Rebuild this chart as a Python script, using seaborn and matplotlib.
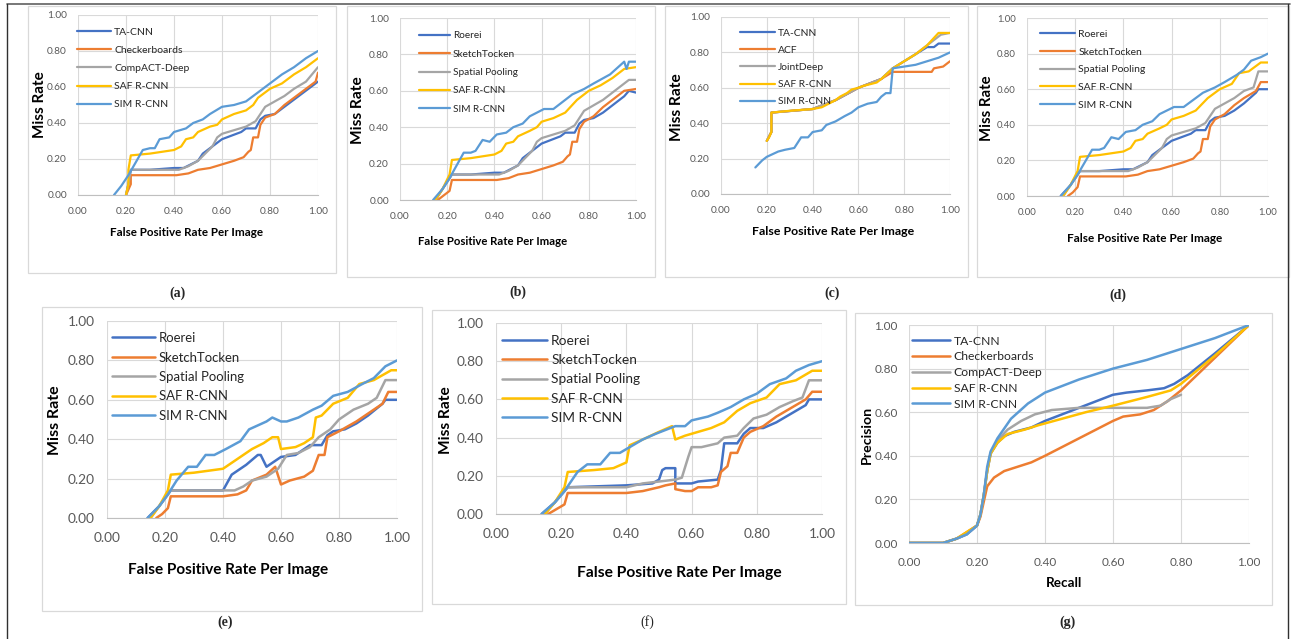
import matplotlib
matplotlib.use('Agg')
import matplotlib.pyplot as plt
import pandas as pd
import seaborn as sns
from matplotlib.patches import Rectangle
from matplotlib.lines import Line2D
from matplotlib.ticker import FormatStrFormatter

W, H = 1293, 639

COLORS = ['#4472C4', '#ED7D31', '#A5A5A5', '#FFC000', '#5B9BD5']

# Noms des méthodes de chaque panneau
names_ta = ['TA-CNN', 'Checkerboards', 'CompACT-Deep', 'SAF R-CNN', 'SIM R-CNN']
names_roerei = ['Roerei', 'SketchTocken', 'Spatial Pooling', 'SAF R-CNN', 'SIM R-CNN']
names_acf = ['TA-CNN', 'ACF', 'JointDeep', 'SAF R-CNN', 'SIM R-CNN']

captions = ['(a)', '(b)', '(c)', '(d)', '(e)', '(f)', '(g)']

# ---- (a) miss rate / FPPI ----
a_ta_cnn = [(0.20, 0.00), (0.21, 0.06), (0.22, 0.14), (0.30, 0.14), (0.40, 0.15), (0.44, 0.15), (0.47, 0.17),
            (0.50, 0.19), (0.52, 0.23), (0.55, 0.26), (0.58, 0.29), (0.60, 0.31), (0.64, 0.33), (0.68, 0.35),
            (0.70, 0.37), (0.74, 0.37), (0.76, 0.42), (0.78, 0.44), (0.82, 0.45), (0.86, 0.49), (0.90, 0.53),
            (0.95, 0.58), (1.00, 0.63)]
a_checkerboards = [(0.20, 0.00), (0.21, 0.03), (0.22, 0.06), (0.22, 0.11), (0.30, 0.11), (0.41, 0.11), (0.46, 0.12),
                   (0.50, 0.14), (0.55, 0.15), (0.60, 0.17), (0.65, 0.19), (0.69, 0.21), (0.71, 0.24), (0.72, 0.25),
                   (0.73, 0.32), (0.75, 0.32), (0.76, 0.39), (0.78, 0.43), (0.82, 0.45), (0.86, 0.50), (0.90, 0.54),
                   (0.95, 0.59), (0.99, 0.63), (1.00, 0.68)]
a_compact_deep = [(0.20, 0.00), (0.21, 0.06), (0.22, 0.14), (0.30, 0.14), (0.42, 0.14), (0.46, 0.16), (0.50, 0.19),
                  (0.53, 0.23), (0.56, 0.27), (0.58, 0.32), (0.60, 0.34), (0.65, 0.36), (0.70, 0.38), (0.74, 0.41),
                  (0.76, 0.45), (0.78, 0.49), (0.82, 0.52), (0.86, 0.55), (0.90, 0.59), (0.95, 0.63), (1.00, 0.71)]
a_saf_rcnn = [(0.20, 0.00), (0.21, 0.06), (0.21, 0.14), (0.22, 0.22), (0.30, 0.23), (0.40, 0.25), (0.43, 0.27),
              (0.45, 0.31), (0.48, 0.32), (0.50, 0.35), (0.55, 0.38), (0.58, 0.39), (0.60, 0.42), (0.65, 0.45),
              (0.70, 0.47), (0.73, 0.50), (0.75, 0.54), (0.80, 0.59), (0.85, 0.62), (0.90, 0.67), (0.95, 0.71),
              (1.00, 0.76)]
a_sim_rcnn = [(0.15, 0.00), (0.18, 0.05), (0.21, 0.11), (0.24, 0.18), (0.27, 0.25), (0.30, 0.26), (0.32, 0.26),
              (0.34, 0.31), (0.38, 0.32), (0.40, 0.35), (0.45, 0.37), (0.48, 0.40), (0.52, 0.42), (0.55, 0.45),
              (0.60, 0.49), (0.65, 0.50), (0.70, 0.52), (0.73, 0.55), (0.76, 0.58), (0.80, 0.62), (0.85, 0.67),
              (0.90, 0.71), (0.95, 0.76), (1.00, 0.80)]

# ---- (b) ----
b_roerei = [(0.15, 0.00), (0.18, 0.06), (0.21, 0.12), (0.22, 0.14), (0.30, 0.14), (0.40, 0.15), (0.44, 0.15),
            (0.47, 0.17), (0.50, 0.19), (0.52, 0.23), (0.55, 0.26), (0.58, 0.29), (0.60, 0.31), (0.64, 0.33),
            (0.68, 0.35), (0.70, 0.37), (0.74, 0.37), (0.76, 0.42), (0.78, 0.44), (0.82, 0.45), (0.86, 0.48),
            (0.90, 0.52), (0.95, 0.57), (0.97, 0.60), (1.00, 0.59)]
b_sketchtocken = [(0.16, 0.00), (0.18, 0.02), (0.21, 0.05), (0.22, 0.11), (0.30, 0.11), (0.41, 0.11), (0.46, 0.12),
                  (0.50, 0.14), (0.55, 0.15), (0.60, 0.17), (0.65, 0.19), (0.69, 0.21), (0.71, 0.24), (0.72, 0.25),
                  (0.73, 0.32), (0.75, 0.32), (0.76, 0.39), (0.78, 0.43), (0.82, 0.46), (0.86, 0.51), (0.90, 0.55),
                  (0.95, 0.60), (1.00, 0.61)]
b_spatial_pooling = [(0.15, 0.00), (0.18, 0.06), (0.21, 0.12), (0.22, 0.14), (0.30, 0.14), (0.42, 0.14), (0.46, 0.16),
                     (0.50, 0.19), (0.53, 0.23), (0.56, 0.27), (0.58, 0.32), (0.60, 0.34), (0.65, 0.36), (0.70, 0.38),
                     (0.74, 0.41), (0.76, 0.45), (0.78, 0.49), (0.82, 0.52), (0.86, 0.55), (0.90, 0.59), (0.95, 0.64),
                     (0.97, 0.66), (1.00, 0.66)]
b_saf_rcnn = [(0.15, 0.00), (0.18, 0.06), (0.21, 0.14), (0.22, 0.22), (0.30, 0.23), (0.40, 0.25), (0.43, 0.27),
              (0.45, 0.31), (0.48, 0.32), (0.50, 0.35), (0.55, 0.38), (0.58, 0.40), (0.60, 0.43), (0.65, 0.45),
              (0.70, 0.48), (0.75, 0.55), (0.80, 0.60), (0.85, 0.63), (0.90, 0.67), (0.95, 0.72), (1.00, 0.73)]
b_sim_rcnn = [(0.14, 0.00), (0.18, 0.06), (0.21, 0.12), (0.24, 0.19), (0.27, 0.26), (0.30, 0.26), (0.32, 0.27),
              (0.35, 0.33), (0.38, 0.32), (0.41, 0.36), (0.45, 0.37), (0.48, 0.40), (0.52, 0.42), (0.55, 0.46),
              (0.61, 0.50), (0.65, 0.50), (0.68, 0.53), (0.73, 0.58), (0.78, 0.61), (0.82, 0.64), (0.89, 0.69),
              (0.95, 0.76), (0.96, 0.72), (0.97, 0.76), (1.00, 0.76)]

# ---- (c) ----
c_ta_cnn = [(0.20, 0.30), (0.22, 0.35), (0.22, 0.46), (0.40, 0.48), (0.50, 0.53), (0.60, 0.60), (0.70, 0.65),
            (0.75, 0.71), (0.80, 0.75), (0.85, 0.79), (0.90, 0.83), (0.93, 0.83), (0.95, 0.85), (1.00, 0.85)]
c_acf = [(0.20, 0.30), (0.22, 0.35), (0.22, 0.46), (0.40, 0.48), (0.50, 0.53), (0.60, 0.60), (0.70, 0.65),
         (0.75, 0.69), (0.92, 0.69), (0.93, 0.71), (0.97, 0.72), (1.00, 0.75)]
c_jointdeep = [(0.20, 0.30), (0.22, 0.35), (0.22, 0.46), (0.40, 0.48), (0.50, 0.53), (0.60, 0.60), (0.70, 0.65),
               (0.75, 0.71), (0.80, 0.75), (0.85, 0.79), (0.90, 0.84), (0.94, 0.88), (0.96, 0.90), (1.00, 0.91)]
c_saf_rcnn = [(0.20, 0.30), (0.21, 0.32), (0.22, 0.35), (0.22, 0.46), (0.30, 0.47), (0.40, 0.48), (0.44, 0.49),
              (0.47, 0.51), (0.50, 0.53), (0.52, 0.55), (0.55, 0.57), (0.57, 0.59), (0.60, 0.60), (0.62, 0.61),
              (0.65, 0.62), (0.68, 0.63), (0.70, 0.65), (0.75, 0.71), (0.80, 0.75), (0.85, 0.79), (0.90, 0.84),
              (0.95, 0.91), (1.00, 0.91)]
c_sim_rcnn = [(0.15, 0.15), (0.18, 0.19), (0.20, 0.21), (0.25, 0.24), (0.28, 0.25), (0.32, 0.26), (0.35, 0.32),
              (0.38, 0.32), (0.40, 0.35), (0.44, 0.36), (0.46, 0.39), (0.50, 0.41), (0.54, 0.44), (0.57, 0.46),
              (0.60, 0.49), (0.64, 0.51), (0.68, 0.52), (0.70, 0.55), (0.72, 0.57), (0.74, 0.57), (0.75, 0.71),
              (0.80, 0.72), (0.85, 0.73), (0.90, 0.75), (0.95, 0.77), (1.00, 0.80)]

# ---- (d) ----
d_roerei = [(0.14, 0.00), (0.18, 0.06), (0.21, 0.12), (0.22, 0.14), (0.30, 0.14), (0.40, 0.15), (0.44, 0.15),
            (0.47, 0.17), (0.50, 0.19), (0.52, 0.23), (0.55, 0.26), (0.58, 0.29), (0.60, 0.31), (0.64, 0.33),
            (0.68, 0.35), (0.70, 0.37), (0.74, 0.37), (0.76, 0.42), (0.78, 0.44), (0.82, 0.45), (0.86, 0.48),
            (0.90, 0.52), (0.95, 0.58), (0.96, 0.60), (1.00, 0.60)]
d_sketchtocken = [(0.17, 0.00), (0.19, 0.02), (0.21, 0.05), (0.22, 0.11), (0.30, 0.11), (0.41, 0.11), (0.46, 0.12),
                  (0.50, 0.14), (0.55, 0.15), (0.60, 0.17), (0.65, 0.19), (0.69, 0.21), (0.71, 0.24), (0.72, 0.25),
                  (0.73, 0.32), (0.75, 0.32), (0.76, 0.39), (0.78, 0.43), (0.82, 0.46), (0.86, 0.51), (0.90, 0.55),
                  (0.95, 0.59), (0.97, 0.64), (1.00, 0.64)]
d_spatial_pooling = [(0.15, 0.00), (0.18, 0.06), (0.21, 0.12), (0.22, 0.14), (0.30, 0.14), (0.42, 0.14), (0.46, 0.16),
                     (0.50, 0.19), (0.53, 0.23), (0.56, 0.27), (0.58, 0.32), (0.60, 0.34), (0.65, 0.36), (0.70, 0.38),
                     (0.74, 0.41), (0.76, 0.45), (0.78, 0.49), (0.82, 0.52), (0.86, 0.55), (0.90, 0.59), (0.94, 0.61),
                     (0.96, 0.70), (1.00, 0.70)]
d_saf_rcnn = [(0.15, 0.00), (0.18, 0.06), (0.21, 0.14), (0.22, 0.22), (0.30, 0.23), (0.40, 0.25), (0.43, 0.27),
              (0.45, 0.31), (0.48, 0.32), (0.50, 0.35), (0.55, 0.38), (0.58, 0.40), (0.60, 0.43), (0.65, 0.45),
              (0.70, 0.48), (0.75, 0.55), (0.80, 0.60), (0.85, 0.63), (0.88, 0.69), (0.92, 0.70), (0.95, 0.73),
              (0.97, 0.75), (1.00, 0.75)]
d_sim_rcnn = [(0.14, 0.00), (0.18, 0.06), (0.21, 0.12), (0.24, 0.19), (0.27, 0.26), (0.30, 0.26), (0.32, 0.27),
              (0.35, 0.33), (0.38, 0.32), (0.41, 0.36), (0.45, 0.37), (0.48, 0.40), (0.52, 0.42), (0.55, 0.46),
              (0.61, 0.50), (0.65, 0.50), (0.68, 0.53), (0.73, 0.58), (0.78, 0.61), (0.82, 0.64), (0.87, 0.68),
              (0.90, 0.71), (0.93, 0.76), (0.97, 0.78), (1.00, 0.80)]

# ---- (e) ----
e_roerei = [(0.14, 0.00), (0.18, 0.06), (0.21, 0.12), (0.22, 0.14), (0.30, 0.14), (0.40, 0.14), (0.43, 0.22),
            (0.48, 0.27), (0.52, 0.32), (0.53, 0.32), (0.55, 0.26), (0.57, 0.28), (0.60, 0.31), (0.65, 0.32),
            (0.68, 0.35), (0.70, 0.37), (0.74, 0.37), (0.76, 0.42), (0.78, 0.44), (0.82, 0.45), (0.86, 0.48),
            (0.90, 0.52), (0.95, 0.58), (0.96, 0.60), (1.00, 0.60)]
e_sketchtocken = [(0.17, 0.00), (0.19, 0.02), (0.21, 0.05), (0.22, 0.11), (0.30, 0.11), (0.40, 0.11), (0.45, 0.12),
                  (0.48, 0.14), (0.50, 0.19), (0.55, 0.22), (0.58, 0.26), (0.60, 0.17), (0.63, 0.19), (0.68, 0.21),
                  (0.71, 0.24), (0.73, 0.32), (0.75, 0.32), (0.76, 0.41), (0.80, 0.44), (0.86, 0.49), (0.91, 0.54),
                  (0.95, 0.58), (0.97, 0.64), (1.00, 0.64)]
e_spatial_pooling = [(0.15, 0.00), (0.18, 0.06), (0.21, 0.12), (0.22, 0.14), (0.30, 0.14), (0.44, 0.14), (0.47, 0.16),
                     (0.50, 0.19), (0.55, 0.21), (0.59, 0.25), (0.62, 0.32), (0.66, 0.33), (0.70, 0.36), (0.73, 0.41),
                     (0.77, 0.45), (0.80, 0.50), (0.85, 0.55), (0.90, 0.58), (0.93, 0.61), (0.96, 0.70), (1.00, 0.70)]
e_saf_rcnn = [(0.15, 0.00), (0.18, 0.06), (0.21, 0.14), (0.22, 0.22), (0.30, 0.23), (0.40, 0.25), (0.43, 0.28),
              (0.47, 0.32), (0.50, 0.35), (0.54, 0.38), (0.57, 0.41), (0.59, 0.41), (0.60, 0.35), (0.65, 0.36),
              (0.68, 0.38), (0.71, 0.41), (0.72, 0.51), (0.74, 0.52), (0.78, 0.58), (0.83, 0.61), (0.87, 0.68),
              (0.92, 0.70), (0.98, 0.75), (1.00, 0.75)]
e_sim_rcnn = [(0.14, 0.00), (0.18, 0.06), (0.21, 0.12), (0.24, 0.19), (0.28, 0.26), (0.31, 0.26), (0.34, 0.32),
              (0.37, 0.32), (0.41, 0.35), (0.46, 0.39), (0.49, 0.45), (0.55, 0.49), (0.57, 0.51), (0.60, 0.49),
              (0.62, 0.49), (0.66, 0.51), (0.71, 0.55), (0.74, 0.57), (0.78, 0.62), (0.83, 0.64), (0.88, 0.68),
              (0.92, 0.71), (0.96, 0.77), (1.00, 0.80)]

# ---- (f) ----
f_roerei = [(0.14, 0.00), (0.18, 0.06), (0.22, 0.14), (0.40, 0.15), (0.48, 0.16), (0.50, 0.18), (0.51, 0.23),
            (0.52, 0.24), (0.55, 0.24), (0.55, 0.16), (0.60, 0.16), (0.62, 0.17), (0.68, 0.18), (0.69, 0.23),
            (0.70, 0.37), (0.74, 0.37), (0.76, 0.42), (0.78, 0.45), (0.82, 0.45), (0.86, 0.48), (0.90, 0.52),
            (0.95, 0.57), (0.96, 0.60), (1.00, 0.60)]
f_sketchtocken = [(0.16, 0.00), (0.21, 0.05), (0.22, 0.11), (0.40, 0.11), (0.45, 0.12), (0.50, 0.14), (0.52, 0.15),
                  (0.55, 0.16), (0.55, 0.13), (0.58, 0.12), (0.60, 0.12), (0.62, 0.14), (0.66, 0.14), (0.68, 0.15),
                  (0.69, 0.22), (0.71, 0.25), (0.72, 0.32), (0.74, 0.32), (0.76, 0.40), (0.78, 0.43), (0.82, 0.46),
                  (0.86, 0.51), (0.90, 0.55), (0.95, 0.60), (0.97, 0.64), (1.00, 0.64)]
f_spatial_pooling = [(0.15, 0.00), (0.18, 0.06), (0.22, 0.14), (0.40, 0.14), (0.45, 0.16), (0.50, 0.17), (0.55, 0.18),
                     (0.57, 0.19), (0.59, 0.30), (0.60, 0.35), (0.63, 0.35), (0.68, 0.37), (0.70, 0.40), (0.74, 0.41),
                     (0.76, 0.45), (0.79, 0.50), (0.83, 0.52), (0.87, 0.56), (0.91, 0.59), (0.94, 0.61), (0.96, 0.70),
                     (1.00, 0.70)]
f_saf_rcnn = [(0.15, 0.00), (0.18, 0.06), (0.21, 0.14), (0.22, 0.22), (0.30, 0.23), (0.36, 0.24), (0.40, 0.27),
              (0.41, 0.36), (0.45, 0.39), (0.50, 0.43), (0.54, 0.46), (0.55, 0.39), (0.58, 0.41), (0.62, 0.43),
              (0.66, 0.45), (0.70, 0.48), (0.74, 0.54), (0.78, 0.58), (0.83, 0.61), (0.87, 0.68), (0.92, 0.70),
              (0.97, 0.75), (1.00, 0.75)]
f_sim_rcnn = [(0.14, 0.00), (0.18, 0.06), (0.21, 0.12), (0.25, 0.22), (0.28, 0.26), (0.32, 0.26), (0.35, 0.32),
              (0.38, 0.32), (0.41, 0.35), (0.45, 0.39), (0.49, 0.42), (0.55, 0.46), (0.58, 0.46), (0.60, 0.49),
              (0.65, 0.51), (0.68, 0.53), (0.72, 0.56), (0.76, 0.60), (0.80, 0.63), (0.84, 0.68), (0.89, 0.71),
              (0.92, 0.75), (0.96, 0.78), (1.00, 0.80)]

# ---- (g) precision / recall ----
g_ta_cnn = [(0.00, 0.00), (0.10, 0.00), (0.14, 0.02), (0.17, 0.04), (0.20, 0.08), (0.21, 0.13), (0.22, 0.22),
            (0.23, 0.33), (0.24, 0.41), (0.26, 0.46), (0.28, 0.49), (0.31, 0.51), (0.36, 0.53), (0.40, 0.56),
            (0.45, 0.59), (0.50, 0.62), (0.55, 0.65), (0.60, 0.68), (0.64, 0.69), (0.70, 0.70), (0.75, 0.71),
            (0.78, 0.73), (0.82, 0.77), (0.90, 0.87), (1.00, 1.00)]
g_checkerboards = [(0.00, 0.00), (0.10, 0.00), (0.14, 0.02), (0.17, 0.05), (0.20, 0.08), (0.21, 0.12), (0.22, 0.19),
                   (0.23, 0.26), (0.25, 0.30), (0.28, 0.33), (0.32, 0.35), (0.36, 0.37), (0.40, 0.40), (0.45, 0.44),
                   (0.50, 0.48), (0.55, 0.52), (0.60, 0.56), (0.63, 0.58), (0.68, 0.59), (0.72, 0.61), (0.76, 0.65),
                   (0.80, 0.70), (0.90, 0.85), (1.00, 1.00)]
g_compact_deep = [(0.00, 0.00), (0.10, 0.00), (0.14, 0.02), (0.17, 0.04), (0.20, 0.08), (0.21, 0.13), (0.22, 0.22),
                  (0.23, 0.33), (0.24, 0.41), (0.26, 0.47), (0.29, 0.52), (0.33, 0.56), (0.37, 0.59), (0.42, 0.61),
                  (0.50, 0.62), (0.60, 0.62), (0.70, 0.62), (0.74, 0.63), (0.77, 0.66), (0.80, 0.68)]
g_saf_rcnn = [(0.00, 0.00), (0.10, 0.00), (0.14, 0.02), (0.17, 0.05), (0.20, 0.08), (0.21, 0.13), (0.22, 0.22),
              (0.23, 0.33), (0.24, 0.41), (0.26, 0.46), (0.29, 0.50), (0.34, 0.52), (0.38, 0.54), (0.45, 0.57),
              (0.52, 0.60), (0.60, 0.63), (0.70, 0.67), (0.77, 0.70), (0.80, 0.73), (0.90, 0.86), (1.00, 1.00)]
g_sim_rcnn = [(0.00, 0.00), (0.10, 0.00), (0.14, 0.02), (0.17, 0.04), (0.20, 0.08), (0.21, 0.13), (0.22, 0.22),
              (0.23, 0.35), (0.24, 0.42), (0.26, 0.48), (0.30, 0.57), (0.35, 0.64), (0.40, 0.69), (0.45, 0.72),
              (0.50, 0.75), (0.60, 0.80), (0.70, 0.84), (0.80, 0.89), (0.90, 0.94), (1.00, 1.00)]

ticks = [0.0, 0.2, 0.4, 0.6, 0.8, 1.0]

sns.set_style('whitegrid')
plt.rcParams['font.family'] = ['Lato', 'DejaVu Sans']


def px_rect(x0, y0, x1, y1):
    return [x0 / W, 1 - y1 / H, (x1 - x0) / W, (y1 - y0) / H]


# Mise en page en pixels : axes, cadre, légende (x poignée, y 1re ligne, pas, longueur poignée),
# largeurs cibles des textes (tick "0.00", libellé de légende, xlabel, ylabel)
panels = [
    dict(names=names_ta, series=[a_ta_cnn, a_checkerboards, a_compact_deep, a_saf_rcnn, a_sim_rcnn],
         ax=(78, 15, 318, 195), box=(28, 6, 336, 273), cap=(177, 293), xl=(187, 233), yl=(40, 105),
         leg=(77, 32, 17.9, 34), fit=(20, ('Checkerboards', 69), 153, 67), pad=(8.5, 8), lw=1.6,
         ylabel='Miss Rate', xlabel='False Positive Rate Per Image'),
    dict(names=names_roerei, series=[b_roerei, b_sketchtocken, b_spatial_pooling, b_saf_rcnn, b_sim_rcnn],
         ax=(400, 18, 636, 200), box=(347, 6, 655, 277), cap=(518, 292), xl=(493, 241), yl=(358, 110),
         leg=(419, 36, 18.3, 31), fit=(20, ('SketchTocken', 62), 149, 68), pad=(8.5, 8), lw=1.6,
         ylabel='Miss Rate', xlabel='False Positive Rate Per Image'),
    dict(names=names_acf, series=[c_ta_cnn, c_acf, c_jointdeep, c_saf_rcnn, c_sim_rcnn],
         ax=(721, 17, 950, 194), box=(665, 6, 968, 277), cap=(832, 293), xl=(833, 232), yl=(677, 107),
         leg=(740, 33, 17.0, 35), fit=(20, ('SIM R-CNN', 53), 163, 68), pad=(8.5, 8), lw=1.6,
         ylabel='Miss Rate', xlabel='False Positive Rate Per Image'),
    dict(names=names_roerei, series=[d_roerei, d_sketchtocken, d_spatial_pooling, d_saf_rcnn, d_sim_rcnn],
         ax=(1027, 18, 1268, 196), box=(977, 6, 1289, 277), cap=(1118, 295), xl=(1145, 239), yl=(987, 108),
         leg=(1040, 34, 17.4, 35), fit=(19, ('SketchTocken', 65), 155, 65), pad=(8.5, 8), lw=1.6,
         ylabel='Miss Rate', xlabel='False Positive Rate Per Image'),
    dict(names=names_roerei, series=[e_roerei, e_sketchtocken, e_spatial_pooling, e_saf_rcnn, e_sim_rcnn],
         ax=(107, 321, 397, 518), box=(42, 307, 422, 611), cap=(225, 622), xl=(228, 570), yl=(55, 420),
         leg=(112, 338, 19.5, 43), fit=(27, ('SketchTocken', 82), 200, 70), pad=(10, 9), lw=1.8,
         ylabel='Miss Rate', xlabel='False Positive Rate Per Image'),
    dict(names=names_roerei, series=[f_roerei, f_sketchtocken, f_spatial_pooling, f_saf_rcnn, f_sim_rcnn],
         ax=(496, 323, 822, 514), box=(432, 310, 846, 604), cap=(647, 622), xl=(679, 573), yl=(446, 420),
         leg=(502, 341, 19.2, 45), fit=(27, ('SketchTocken', 86), 206, 68), pad=(10, 9), lw=1.8,
         ylabel='Miss Rate', xlabel='False Positive Rate Per Image'),
    dict(names=names_ta, series=[g_ta_cnn, g_checkerboards, g_compact_deep, g_saf_rcnn, g_sim_rcnn],
         ax=(909, 325, 1249, 543), box=(855, 313, 1272, 605), cap=(1067, 622), xl=(1064, 583), yl=(867, 435),
         leg=(912, 341, 15.8, 38), fit=(23, ('Checkerboards', 81), 36, 58), pad=(10, 8), lw=1.8,
         ylabel='Precision', xlabel='Recall'),
]

fig = plt.figure(figsize=(W / 100, H / 100), dpi=100)
fig.patch.set_facecolor('white')
renderer = fig.canvas.get_renderer()


def text_box(s, size, weight='normal'):
    t = fig.text(0, 0, s, fontsize=size, fontweight=weight)
    bb = t.get_window_extent(renderer)
    t.remove()
    return bb.width, bb.height


def fit_size(s, target_px, weight='normal'):
    w, _ = text_box(s, 10, weight)
    return 10 * target_px / w


for p, cap in zip(panels, captions):
    L, T, R, B = p['ax']
    ax = fig.add_axes(px_rect(L, T, R, B))
    tick_w, (leg_txt, leg_w), xl_w, yl_w = p['fit']
    tick_fs = fit_size('0.00', tick_w)
    leg_fs = fit_size(leg_txt, leg_w)
    xl_fs = fit_size(p['xlabel'], xl_w, 'bold')
    yl_fs = fit_size(p['ylabel'], yl_w, 'bold')

    rows = []
    for name, pts in zip(p['names'], p['series']):
        for x, y in pts:
            rows.append({'x': x, 'y': y, 'method': name})
    df = pd.DataFrame(rows)

    sns.lineplot(data=df, x='x', y='y', hue='method', hue_order=p['names'], palette=COLORS,
                 sort=False, estimator=None, linewidth=p['lw'], ax=ax)

    ax.set_xlim(0, 1)
    ax.set_ylim(0, 1)
    ax.set_xticks(ticks)
    ax.set_yticks(ticks)
    ax.xaxis.set_major_formatter(FormatStrFormatter('%.2f'))
    ax.yaxis.set_major_formatter(FormatStrFormatter('%.2f'))
    ax.tick_params(length=0, labelsize=tick_fs, labelcolor='#595959')
    ax.tick_params(axis='x', pad=p['pad'][0])
    ax.tick_params(axis='y', pad=p['pad'][1])
    ax.grid(True, color='#d9d9d9', linewidth=0.8)
    for s in ['left', 'right', 'top']:
        ax.spines[s].set_visible(False)
    ax.spines['bottom'].set_color('#bfbfbf')
    ax.spines['bottom'].set_linewidth(0.8)

    # Rótulos dos eixos posicionados em pixels
    ax.set_xlabel(p['xlabel'], fontsize=xl_fs, fontweight='bold', color='black', va='center')
    ax.set_ylabel(p['ylabel'], fontsize=yl_fs, fontweight='bold', color='black', va='center')
    ax.xaxis.set_label_coords((p['xl'][0] - L) / (R - L), (B - p['xl'][1]) / (B - T))
    ax.yaxis.set_label_coords((p['yl'][0] - L) / (R - L), (B - p['yl'][1]) / (B - T))

    hx, hy, sp, hlen = p['leg']
    fpx = leg_fs * 100 / 72
    _, th = text_box(leg_txt, leg_fs)
    sns.move_legend(ax, 'upper left',
                    bbox_to_anchor=((hx - L) / (R - L), (B - (hy - th / 2)) / (B - T)),
                    frameon=False, title=None, fontsize=leg_fs, borderpad=0, borderaxespad=0,
                    handlelength=hlen / fpx, handletextpad=0.3,
                    labelspacing=max((sp - th) / fpx, 0.05))

    fig.add_artist(Rectangle((p['box'][0] / W, 1 - p['box'][3] / H),
                             (p['box'][2] - p['box'][0]) / W, (p['box'][3] - p['box'][1]) / H,
                             transform=fig.transFigure, fill=False, edgecolor='#d9d9d9', linewidth=0.9))
    fig.text(p['cap'][0] / W, 1 - p['cap'][1] / H, cap, ha='center', va='center',
             family='Liberation Serif', fontweight='normal' if cap == '(f)' else 'bold', fontsize=10)

# Moldura externa
fig.add_artist(Line2D([7 / W, 1290 / W], [1 - 4 / H, 1 - 4 / H], transform=fig.transFigure, color='#606060', lw=1.2))
fig.add_artist(Line2D([7 / W, 7 / W], [0, 1 - 4 / H], transform=fig.transFigure, color='#303030', lw=1.0))
fig.add_artist(Line2D([1288 / W, 1288 / W], [0, 1 - 4 / H], transform=fig.transFigure, color='#303030', lw=1.0))

fig.savefig('out.png', dpi=100)
